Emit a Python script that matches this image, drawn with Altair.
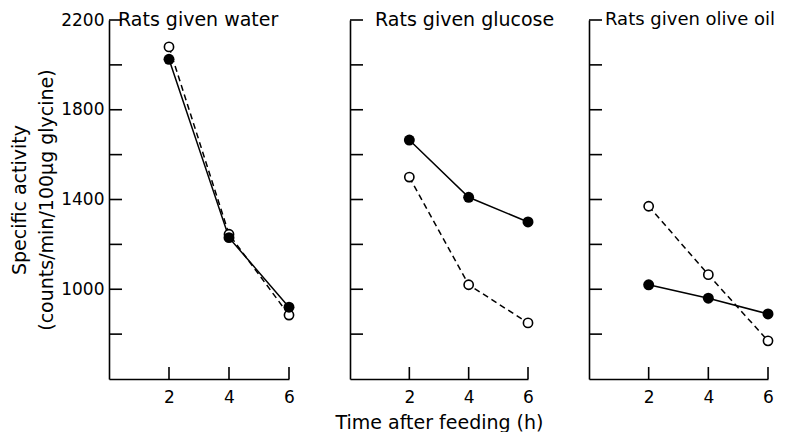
import altair as alt
import pandas as pd

times = [2, 4, 6]
panel_titles = ["Rats given water", "Rats given glucose", "Rats given olive oil"]
water_filled = [2025, 1230, 920]
water_open = [2080, 1245, 885]
glucose_filled = [1665, 1410, 1300]
glucose_open = [1500, 1020, 850]
olive_filled = [1020, 960, 890]
olive_open = [1370, 1065, 770]
y_minor_ticks = [800, 1000, 1200, 1400, 1600, 1800, 2000, 2200]
y_tick_labels = [1000, 1400, 1800, 2200]
x_ticks = [2, 4, 6]
y_domain = [600, 2200]
x_domain = [0, 6]
y_title = ["Specific activity", "(counts/min/100\u03bcg glycine)"]
x_title = "Time after feeding (h)"

FONT = "DejaVu Sans"
FS = 19
LFS = 17
H = 359


def panel(title, filled, opened, width, first, middle, title_x, title_fs):
    df = pd.DataFrame({
        "t": times * 2,
        "v": filled + opened,
        "s": ["filled"] * 3 + ["open"] * 3,
    })
    x_axis_kw = dict(values=x_ticks, ticks=False, tickSize=0, grid=False,
                     domainColor="black", domainWidth=1.6, labelFontSize=LFS,
                     labelPadding=10, labelFont=FONT, labelColor="black",
                     labelFlush=False, format="d",
                     titleFont=FONT, titleFontSize=FS, titleFontWeight="normal",
                     titleColor="black", titlePadding=8)
    x_axis = alt.Axis(title=x_title if middle else None, **x_axis_kw)
    if first:
        y_axis = alt.Axis(values=y_tick_labels, ticks=False, tickSize=0, grid=False,
                          domainColor="black", domainWidth=1.6, labelFontSize=LFS,
                          labelPadding=5, labelFont=FONT, labelColor="black",
                          labelFlush=False, format="d",
                          title=y_title, titleFont=FONT, titleFontSize=FS,
                          titleFontWeight="normal", titleColor="black",
                          titlePadding=4, titleLineHeight=27)
    else:
        y_axis = alt.Axis(values=y_tick_labels, ticks=False, tickSize=0, grid=False,
                          labels=False, domainColor="black", domainWidth=1.6,
                          title=None)
    xs = alt.Scale(domain=x_domain, nice=False, zero=False)
    ys = alt.Scale(domain=y_domain, nice=False, zero=False)
    base = alt.Chart(df).encode(
        x=alt.X("t:Q", scale=xs, axis=x_axis),
        y=alt.Y("v:Q", scale=ys, axis=y_axis),
    )
    line_f = base.transform_filter("datum.s == 'filled'").mark_line(
        color="black", strokeWidth=1.5)
    line_o = base.transform_filter("datum.s == 'open'").mark_line(
        color="black", strokeWidth=1.5, strokeDash=[6, 4])
    pts_o = base.transform_filter("datum.s == 'open'").mark_point(
        shape="circle", filled=True, fill="white", stroke="black",
        strokeWidth=1.6, size=85, opacity=1)
    pts_f = base.transform_filter("datum.s == 'filled'").mark_circle(
        color="black", size=120, opacity=1)
    yt = alt.Chart(pd.DataFrame({"v": y_minor_ticks})).mark_rule(
        color="black", strokeWidth=1.6).encode(
        y=alt.Y("v:Q", scale=ys), x=alt.value(0), x2=alt.value(13))
    xt = alt.Chart(pd.DataFrame({"t": x_ticks})).mark_rule(
        color="black", strokeWidth=1.6).encode(
        x=alt.X("t:Q", scale=xs), y=alt.value(H), y2=alt.value(H - 12))
    ttl = alt.Chart(pd.DataFrame({"label": [title]})).mark_text(
        align="left", baseline="middle", font=FONT, fontSize=title_fs,
        color="black").encode(
        x=alt.value(title_x), y=alt.value(0), text="label:N")
    return alt.layer(line_o, line_f, pts_o, pts_f, yt, xt, ttl).properties(
        width=width, height=H)


p1 = panel(panel_titles[0], water_filled, water_open, 180, True, False, 9, FS)
p2 = panel(panel_titles[1], glucose_filled, glucose_open, 178, False, True, 25, FS)
p3 = panel(panel_titles[2], olive_filled, olive_open, 179, False, False, 16, 18)

chart = alt.hconcat(p1, p2, p3, spacing=61, bounds="flush").properties(
    padding={"left": 2, "top": 3, "right": 0, "bottom": 0}
).configure(background="white").configure_view(stroke=None)

chart.save("out.html", embed_options={"renderer": "svg", "actions": False})
